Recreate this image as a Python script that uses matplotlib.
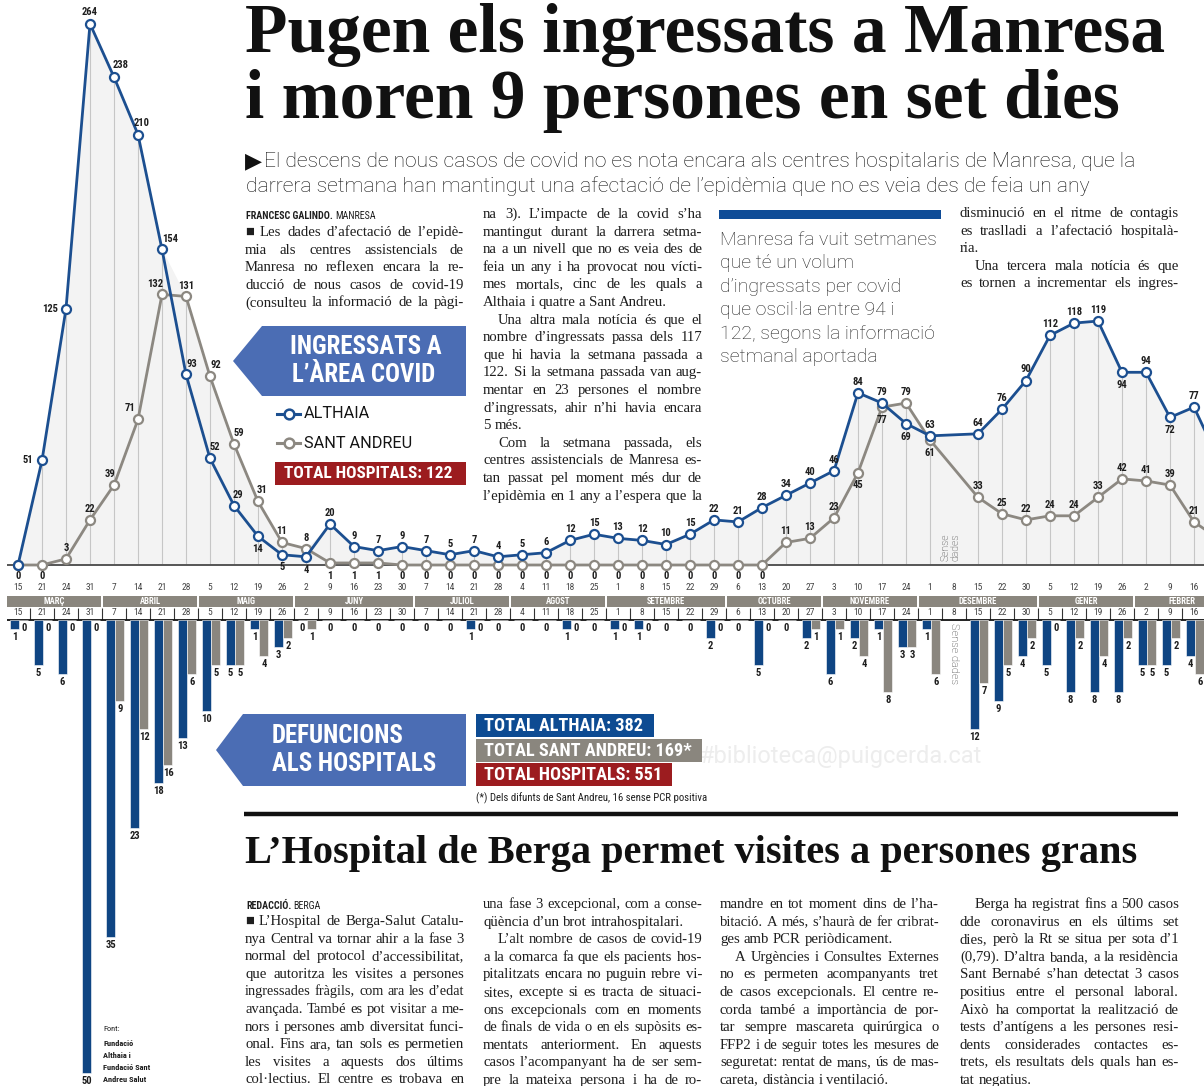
import numpy as np
import matplotlib
matplotlib.use('Agg')
import matplotlib.pyplot as plt
from matplotlib.font_manager import FontProperties, fontManager
from matplotlib.patches import Polygon, Rectangle

# ---------------- data ----------------
months = ['MARÇ', 'ABRIL', 'MAIG', 'JUNY', 'JULIOL', 'AGOST', 'SETEMBRE',
          'OCTUBRE', 'NOVEMBRE', 'DESEMBRE', 'GENER', 'FEBRER']
month_weeks = [4, 4, 4, 5, 4, 4, 5, 4, 4, 5, 4, 4]
week_days = ['15', '21', '24', '31', '7', '14', '21', '28', '5', '12', '19', '26',
             '2', '9', '16', '23', '30', '7', '14', '21', '28', '4', '11', '18', '25',
             '1', '8', '15', '22', '29', '6', '13', '20', '27', '3', '10', '17', '24',
             '1', '8', '15', '22', '30', '5', '12', '19', '26', '2', '9', '16', '23']
# ingressats a l'àrea covid (None = sense dades)
althaia_ingressats = [0, 51, 125, 264, 238, 210, 154, 93, 52, 29,
                      14, 5, 4, 20, 9, 7, 9, 7, 5, 7,
                      4, 5, 6, 12, 15, 13, 12, 10, 15, 22,
                      21, 28, 34, 40, 46, 84, 79, 69, 63, None,
                      64, 76, 90, 112, 118, 119, 94, 94, 72, 77, 52]
standreu_ingressats = [0, 0, 3, 22, 39, 71, 132, 131, 92, 59,
                       31, 11, 8, 1, 1, 1, 0, 0, 0, 0,
                       0, 0, 0, 0, 0, 0, 0, 0, 0, 0,
                       0, 0, 11, 13, 23, 45, 77, 79, 61, None,
                       33, 25, 22, 24, 24, 33, 42, 41, 39, 21, 13]
# defuncions
althaia_defuncions = [1, 5, 6, 50, 35, 23, 18, 13, 10, 5, 1, 3,
                      0, 0, 0, 0, 0, 0, 0, 1, 0, 0, 0, 1, 0,
                      1, 1, 0, 0, 2, 0, 5, 0, 2, 6, 2, 1, 3,
                      1, None, 12, 9, 4, 5, 8, 8, 8, 5, 5, 4, None]
standreu_defuncions = [0, 0, 0, 0, 9, 12, 16, 6, 5, 5, 4, 2,
                       1, 0, 0, 0, 0, 0, 0, 0, 0, 0, 0, 0, 0,
                       0, 0, 0, 0, 0, 0, 0, 0, 1, 1, 4, 8, 3,
                       6, None, 7, 5, 2, 0, 2, 4, 2, 5, 2, 6, None]
total_hospitals_ingressats = 122
total_althaia_def = 382
total_standreu_def = 169
total_hospitals_def = 551

# ---------------- style ----------------
W, H = 1204, 1086
BLUE = '#1c4f90'
GRAY = '#8c8881'
BARBLUE = '#0f4583'
BARGRAY = '#8a867f'
ARROW = '#4b6db4'
RED = '#9c1c1f'
BOXBLUE = '#0d4b92'
BAND = '#8a867e'
TXT = '#1e1e1e'

avail = {f.name for f in fontManager.ttflist}
COND = 'DejaVu Sans'
for cand in ['Roboto Condensed', 'Liberation Sans Narrow', 'Open Sans Condensed', 'DejaVu Sans']:
    if cand in avail:
        COND = cand
        break
LIGHT = 'Roboto' if 'Roboto' in avail else 'DejaVu Sans'
SERIF = ['Liberation Serif', 'DejaVu Serif']


def FP(family, size, weight='normal', stretch='normal'):
    return FontProperties(family=family, size=size, weight=weight, stretch=stretch)


fig = plt.figure(figsize=(W / 100, H / 100), dpi=100)
fig.patch.set_facecolor('white')
renderer = fig.canvas.get_renderer()


def text_w(s, fp):
    w, h, d = renderer.get_text_width_height_descent(s, fp, ismath=False)
    return w


def fit_size(s, target, family, weight='normal', stretch='normal'):
    fp = FP(family, 10, weight, stretch)
    return 10 * target / text_w(s, fp)


XL = (-18 / 24, (W - 18) / 24)
n = len(week_days)
x = np.arange(n)
ya = np.array([np.nan if v is None else v for v in althaia_ingressats], float)
yg = np.array([np.nan if v is None else v for v in standreu_ingressats], float)
da = np.array([np.nan if v is None else v for v in althaia_defuncions], float)
dg = np.array([np.nan if v is None else v for v in standreu_defuncions], float)
nvis = int(np.floor(XL[1])) + 1  # weeks whose labels fall inside the page

# ---------------- line chart ----------------
BASE = 565
ax_line = fig.add_axes([0, 1 - BASE / H, 1, BASE / H])
ax_line.set_xlim(*XL)
ax_line.set_ylim(0, BASE / 2.05)
ax_line.axis('off')
ax_line.patch.set_visible(False)

m = ~np.isnan(ya)
env = np.fmax(ya, yg)
ax_line.fill_between(x[m], 0, env[m], color='#f3f3f3', lw=0, zorder=1)
ax_line.vlines(x[m], 0, env[m], color='#c6c6c6', lw=0.8, zorder=2)
ax_line.hlines(0, -0.45, 51, color='#555555', lw=1.4, zorder=3, clip_on=False)
ax_line.plot(x[m], yg[m], color=GRAY, lw=2.0, marker='o', ms=6.5, mfc='white',
             mec=GRAY, mew=1.6, zorder=4, clip_on=False)
ax_line.plot(x[m], ya[m], color=BLUE, lw=2.0, marker='o', ms=6.5, mfc='white',
             mec=BLUE, mew=1.6, zorder=5, clip_on=False)

lab_fp = FP(COND, 7.6 if COND != 'DejaVu Sans' else 6.8, 'bold', 'condensed')
blue_off = {1: (-14, 0), 2: (-16, 0), 3: (0, 12), 4: (7, 12), 5: (4, 11), 6: (8, 10),
            7: (6, 10), 8: (5, 11), 9: (4, 11), 10: (0, -13), 11: (0, -12),
            12: (0, -13), 37: (0, -13), 46: (0, -13), 48: (0, -13)}
gray_off = {4: (-4, 11), 5: (-8, 11), 6: (-7, 10), 7: (0, 10), 8: (6, 11), 9: (5, 11),
            10: (4, 11), 13: (0, -13), 14: (0, -13), 15: (0, -13), 35: (0, -12),
            36: (0, -13), 38: (0, -13)}
for i in range(nvis):
    if np.isnan(ya[i]):
        continue
    if not (ya[i] == 0 and yg[i] == 0):
        off = blue_off.get(i, (0, 11))
        ax_line.annotate(f'{int(ya[i])}', (i, ya[i]), xytext=off, textcoords='offset pixels',
                         ha='center', va='center', fontproperties=lab_fp, color=TXT,
                         annotation_clip=False, zorder=6)
    off = gray_off.get(i, (0, -11) if yg[i] == 0 else (0, 11))
    ax_line.annotate(f'{int(yg[i])}', (i, yg[i]), xytext=off, textcoords='offset pixels',
                     ha='center', va='center', fontproperties=lab_fp, color=TXT,
                     annotation_clip=False, zorder=6)
nd = int(np.where(np.isnan(ya))[0][0])
ax_line.text(nd - 0.15, 2, 'Sense\ndades', rotation=90, ha='center', va='bottom',
             fontproperties=FP(LIGHT, 7.5, 'light'), color='#333333', linespacing=0.9)

# ---------------- axis strip ----------------
ax_strip = fig.add_axes([0, 1 - 620 / H, 1, 55 / H])
ax_strip.set_xlim(*XL)
ax_strip.set_ylim(620, 565)
ax_strip.axis('off')
ax_strip.patch.set_visible(False)
day_fp = FP(COND, 6.8 if COND != 'DejaVu Sans' else 6.0, 'normal', 'condensed')
band_fp = FP(COND, 6.2 if COND != 'DejaVu Sans' else 5.5, 'bold', 'condensed')
start = 0
for mname, nw in zip(months, month_weeks):
    i0, i1 = start, start + nw - 1
    ax_strip.add_patch(Rectangle((i0 - 0.45, 596), (i1 - i0) + 0.9, 10.5, fc=BAND, ec='none'))
    ax_strip.text((i0 + i1) / 2, 601.5, mname, ha='center', va='center',
                  fontproperties=band_fp, color='white')
    start += nw
for i, d in enumerate(week_days[:nvis]):
    ax_strip.text(i, 588, d, ha='center', va='center', fontproperties=day_fp, color='#444444')
    ax_strip.text(i, 612.5, d, ha='center', va='center', fontproperties=day_fp, color='#444444')
ax_strip.vlines(np.arange(n - 1) + 0.5, 607.5, 619.5, color='#333333', lw=0.8)
ax_strip.hlines(619.5, -0.45, 51, color='#111111', lw=1.3, clip_on=False)

# ---------------- bar chart ----------------
ax_bar = fig.add_axes([0, 0, 1, (H - 620) / H])
ax_bar.set_xlim(*XL)
ax_bar.set_ylim((H - 620) / 9.05, 0)
ax_bar.axis('off')
ax_bar.patch.set_visible(False)
OB, OG, BW = -3.5 / 24, 5.5 / 24, 9 / 24
mb = ~np.isnan(da)
ax_bar.bar(x[mb] + OB, da[mb], width=BW, color=BARBLUE, edgecolor='white', lw=0.4)
ax_bar.bar(x[mb] + OG, dg[mb], width=BW, color=BARGRAY, edgecolor='white', lw=0.4)
for i in range(nvis):
    if np.isnan(da[i]):
        continue
    if da[i] == 0 and dg[i] == 0:
        ax_bar.annotate('0', (i, 0), xytext=(0, -8), textcoords='offset pixels',
                        ha='center', va='center', fontproperties=lab_fp, color=TXT,
                        annotation_clip=False)
        continue
    ax_bar.annotate(f'{int(da[i])}', (i + OB, da[i]), xytext=(0, -8), textcoords='offset pixels',
                    ha='center', va='center', fontproperties=lab_fp, color=TXT,
                    annotation_clip=False)
    ax_bar.annotate(f'{int(dg[i])}', (i + OG + 0.03, dg[i]), xytext=(0, -8),
                    textcoords='offset pixels', ha='center', va='center',
                    fontproperties=lab_fp, color=TXT, annotation_clip=False)
ax_bar.text(nd, 0.3, 'Sense dades', rotation=270, ha='center', va='top',
            fontproperties=FP(LIGHT, 8, 'light'), color='#333333')

# ---------------- page (texts, boxes) ----------------
ax = fig.add_axes([0, 0, 1, 1], zorder=10)
ax.set_xlim(0, W)
ax.set_ylim(H, 0)
ax.axis('off')
ax.patch.set_visible(False)

# headline
h1 = 'Pugen els ingressats a Manresa'
h2 = 'i moren 9 persones en set dies'
fs = fit_size(h1, 925, SERIF, 'bold')
hfp = FP(SERIF, fs, 'bold')
ax.text(245, 52, h1, fontproperties=hfp, va='baseline', ha='left', color='#111111')
ax.text(245, 118, h2, fontproperties=hfp, va='baseline', ha='left', color='#111111')

# subtitle
s1 = 'El descens de nous casos de covid no es nota encara als centres hospitalaris de Manresa, que la'
s2 = 'darrera setmana han mantingut una afectació de l’epidèmia que no es veia des de feia un any'
sfs = fit_size(s1, 874, LIGHT, 'light')
sfp = FP(LIGHT, sfs, 'light')
ax.text(245, 167, '▶', fontproperties=FP('DejaVu Sans', sfs * 1.05), va='baseline', color='#111111')
ax.text(264, 167, s1, fontproperties=sfp, va='baseline', color='#111111')
ax.text(246, 192, s2, fontproperties=sfp, va='baseline', color='#111111')

# body text
body_cols_top = [
    (245, 236, [
        '■ Les dades d’afectació de l’epidè-',
        'mia als centres assistencials de',
        'Manresa no reflexen encara la re-',
        'ducció de nous casos de covid-19',
        '(consulteu la informació de la pàgi-']),
    (483, 218, [
        'na 3). L’impacte de la covid s’ha',
        'mantingut durant la darrera setma-',
        'na a un nivell que no es veia des de',
        'feia un any i ha provocat nou vícti-',
        'mes mortals, cinc de les quals a',
        'Althaia i quatre a Sant Andreu.¶',
        '>Una altra mala notícia és que el',
        'nombre d’ingressats passa dels 117',
        'que hi havia la setmana passada a',
        '122. Si la setmana passada van aug-',
        'mentar en 23 persones el nombre',
        'd’ingressats, ahir n’hi havia encara',
        '5 més.¶',
        '>Com la setmana passada, els',
        'centres assistencials de Manresa es-',
        'tan passat pel moment més dur de',
        'l’epidèmia en 1 any a l’espera que la']),
    (960, 217, [
        'disminució en el ritme de contagis',
        'es traslladi a l’afectació hospitalà-',
        'ria.¶',
        '>Una tercera mala notícia és que',
        'es tornen a incrementar els ingres-']),
]
body_cols_bottom = [
    (245, 925, [
        '■ L’Hospital de Berga-Salut Catalu-',
        'nya Central va tornar ahir a la fase 3',
        'normal del protocol d’accessibilitat,',
        'que autoritza les visites a persones',
        'ingressades fràgils, com ara les d’edat',
        'avançada. També es pot visitar a me-',
        'nors i persones amb diversitat funci-',
        'onal. Fins ara, tan sols es permetien',
        'les visites a aquests dos últims',
        'col·lectius. El centre es trobava en']),
    (483, 908, [
        'una fase 3 excepcional, com a conse-',
        'qüència d’un brot intrahospitalari.¶',
        '>L’alt nombre de casos de covid-19',
        'a la comarca fa que els pacients hos-',
        'pitalitzats encara no puguin rebre vi-',
        'sites, excepte si es tracta de situaci-',
        'ons excepcionals com en moments',
        'de finals de vida o en els supòsits es-',
        'mentats anteriorment. En aquests',
        'casos l’acompanyant ha de ser sem-',
        'pre la mateixa persona i ha de ro-']),
    (720, 908, [
        'mandre en tot moment dins de l’ha-',
        'bitació. A més, s’haurà de fer cribrat-',
        'ges amb PCR periòdicament.¶',
        '>A Urgències i Consultes Externes',
        'no es permeten acompanyants tret',
        'de casos excepcionals. El centre re-',
        'corda també a importància de por-',
        'tar sempre mascareta quirúrgica o',
        'FFP2 i de seguir totes les mesures de',
        'seguretat: rentat de mans, ús de mas-',
        'careta, distància i ventilació.¶']),
    (960, 908, [
        '>Berga ha registrat fins a 500 casos',
        'dde coronavirus en els últims set',
        'dies, però la Rt se situa per sota d’1',
        '(0,79). D’altra banda, a la residència',
        'Sant Bernabé s’han detectat 3 casos',
        'positius entre el personal laboral.',
        'Això ha comportat la realització de',
        'tests d’antígens a les persones resi-',
        'dents considerades contactes es-',
        'trets, els resultats dels quals han es-',
        'tat negatius.¶']),
]
COLW = 219
DY = 17.6
IND = 15


def clean(line):
    return line.replace('¶', '').lstrip('>')


fp10 = FP(SERIF, 10)
need = []
for _, _, ls in body_cols_top + body_cols_bottom:
    for l in ls:
        ind = IND if l.startswith('>') else 0
        need.append(10 * (COLW - 2 - ind) / text_w(clean(l), fp10))
bfs = min(10.6, float(np.percentile(need, 12)))


def body(x0, y0, lines):
    for k, line in enumerate(lines):
        y = y0 + k * DY
        last = line.endswith('¶')
        ind = IND if line.startswith('>') else 0
        txt = clean(line)
        fsz = min(bfs, 10 * (COLW - 2 - ind) / text_w(txt, fp10))
        fp = FP(SERIF, fsz)
        words = txt.split(' ')
        ws = [text_w(w, fp) for w in words]
        if last or len(words) == 1:
            gap = text_w('a a', fp) - text_w('aa', fp)
        else:
            gap = (COLW - ind - sum(ws)) / (len(words) - 1)
        xx = x0 + ind
        for wd, ww in zip(words, ws):
            ax.text(xx, y, wd, fontproperties=fp, va='baseline', ha='left', color=TXT)
            xx += ww + gap


for x0, y0, ls in body_cols_top + body_cols_bottom:
    body(x0, y0, ls)

by_fp = FP(COND, 7.2 if COND != 'DejaVu Sans' else 6.3, 'bold', 'condensed')
by_fp2 = FP(COND, 7.2 if COND != 'DejaVu Sans' else 6.3, 'normal', 'condensed')
t = 'FRANCESC GALINDO.'
ax.text(246, 219, t, fontproperties=by_fp, va='baseline', color=TXT)
ax.text(246 + text_w(t + ' ', by_fp), 219, 'MANRESA', fontproperties=by_fp2, va='baseline', color=TXT)
t = 'REDACCIÓ.'
ax.text(246, 909, t, fontproperties=by_fp, va='baseline', color=TXT)
ax.text(246 + text_w(t + ' ', by_fp), 909, 'BERGA', fontproperties=by_fp2, va='baseline', color=TXT)

# callout
ax.add_patch(Rectangle((719, 209.5), 222, 9, fc='#0f4c97', ec='none'))
c_lines = ['Manresa fa vuit setmanes', 'que té un volum', 'd’ingressats per covid',
           'que oscil·la entre 94 i', '122, segons la informació', 'setmanal aportada']
cfs = fit_size(c_lines[0], 218, LIGHT, 'light')
cfp = FP(LIGHT, cfs, 'light')
for k, l in enumerate(c_lines):
    ax.text(720, 245 + k * 23.4, l, fontproperties=cfp, va='baseline', color='#222222')

# arrow 1 + legend
ax.add_patch(Polygon([(233, 361), (262, 326), (466, 326), (466, 396), (262, 396)],
                     closed=True, fc=ARROW, ec='none'))
afs = fit_size('INGRESSATS A', 151, COND, 'bold', 'condensed')
afp = FP(COND, afs, 'bold', 'condensed')
ax.text(366, 347, 'INGRESSATS A', fontproperties=afp, ha='center', va='center', color='white')
ax.text(364, 375, 'L’ÀREA COVID', fontproperties=afp, ha='center', va='center', color='white')

for yy, col, lab in [(414, BLUE, 'ALTHAIA'), (443, GRAY, 'SANT ANDREU')]:
    ax.plot([277, 300], [yy, yy], color=col, lw=2.2)
    ax.plot([289], [yy], 'o', ms=7, mfc='white', mec=col, mew=1.8)
lfs = fit_size('SANT ANDREU', 108, LIGHT, 'normal')
lfp = FP(LIGHT, lfs, 'normal')
ax.text(304, 414, 'ALTHAIA', fontproperties=lfp, va='center', color='#151515')
ax.text(304, 443, 'SANT ANDREU', fontproperties=lfp, va='center', color='#151515')

ax.add_patch(Rectangle((275, 462), 191, 23, fc=RED, ec='none'))
tfs = fit_size(f'TOTAL HOSPITALS: {total_hospitals_ingressats}', 169, COND, 'bold', 'condensed')
tfp = FP(COND, tfs, 'bold', 'condensed')
ax.text(284, 474, f'TOTAL HOSPITALS: {total_hospitals_ingressats}', fontproperties=tfp,
        va='center', color='white')

# arrow 2 + totals
ax.add_patch(Polygon([(216, 750), (243, 714), (466, 714), (466, 786), (243, 786)],
                     closed=True, fc=ARROW, ec='none'))
ax.text(272, 736, 'DEFUNCIONS', fontproperties=afp, va='center', color='white')
ax.text(272, 764, 'ALS HOSPITALS', fontproperties=afp, va='center', color='white')

ax.text(700, 756, '#biblioteca@puigcerda.cat', fontproperties=FP(LIGHT, 17, 'normal'),
        va='center', color='#ededed', zorder=0)
boxes = [(714, 178, BOXBLUE, f'TOTAL ALTHAIA: {total_althaia_def}'),
         (739, 226, BAND, f'TOTAL SANT ANDREU: {total_standreu_def}*'),
         (763, 196, RED, f'TOTAL HOSPITALS: {total_hospitals_def}')]
bxfs = fit_size(boxes[1][3], 208, COND, 'bold', 'condensed')
bxfp = FP(COND, bxfs, 'bold', 'condensed')
for yy, ww, col, lab in boxes:
    ax.add_patch(Rectangle((476, yy), ww, 23, fc=col, ec='none'))
    ax.text(484, yy + 11.8, lab, fontproperties=bxfp, va='center', color='white')
ffs = fit_size('(*) Dels difunts de Sant Andreu, 16 sense PCR positiva', 229, COND, 'normal', 'condensed')
ax.text(476, 798, '(*) Dels difunts de Sant Andreu, 16 sense PCR positiva',
        fontproperties=FP(COND, ffs, 'normal', 'condensed'), va='center', color=TXT)

# rule + second headline
ax.plot([244, 1178], [813.5, 813.5], color='#111111', lw=3.2, solid_capstyle='butt')
hb = 'L’Hospital de Berga permet visites a persones grans'
hbfs = fit_size(hb, 898, SERIF, 'bold')
ax.text(245, 863, hb, fontproperties=FP(SERIF, hbfs, 'bold'), va='baseline', color='#111111')

# source
src_fp = FP(COND, 6.0 if COND != 'DejaVu Sans' else 5.4, 'bold', 'condensed')
ax.text(103, 1029, 'Font:', fontproperties=FP(COND, src_fp.get_size(), 'normal', 'condensed'),
        va='center', color=TXT)
for k, l in enumerate(['Fundació', 'Althaia i', 'Fundació Sant', 'Andreu Salut']):
    ax.text(103, 1043 + k * 12, l, fontproperties=src_fp, va='center', color=TXT)

fig.savefig('out.png', dpi=100, facecolor='white')
